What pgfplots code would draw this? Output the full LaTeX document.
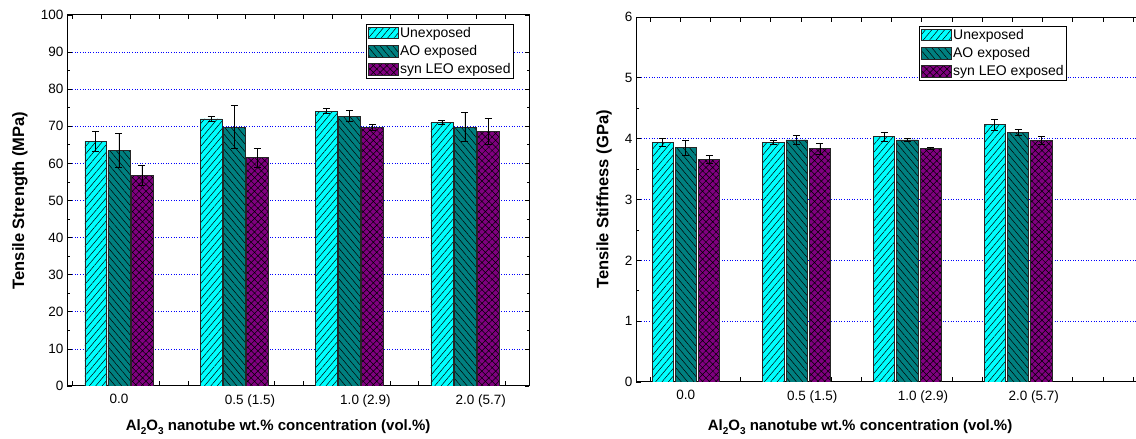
\documentclass[border=0pt]{standalone}
\usepackage{fontspec}
\setmainfont{Liberation Sans}
\usepackage{pgfplots}
\pgfplotsset{compat=1.18}
\usepackage{pgfplotstable}
\usetikzlibrary{patterns.meta}

\definecolor{cu}{HTML}{00FFFF}
\definecolor{ca}{HTML}{008080}
\definecolor{cs}{HTML}{800080}

\pgfplotstableread{
x u ue a ae s se
0 66.0 2.7 63.4 4.6 56.7 2.7
1 72.0 0.6 69.8 5.8 61.5 2.5
2 74.1 0.7 72.7 1.5 69.7 0.7
3 71.0 0.5 69.8 3.9 68.6 3.5
}\strength

\pgfplotstableread{
x u ue a ae s se
0 3.94 0.06 3.85 0.12 3.66 0.07
1 3.94 0.04 3.98 0.08 3.84 0.09
2 4.03 0.07 3.98 0.02 3.84 0.02
3 4.23 0.09 4.10 0.05 3.97 0.06
}\stiffness

\pgfplotsset{
  barbase/.style={draw=black!85, line width=0.7pt,
    legend image code/.code={\draw[##1,draw=black!85] (0pt,-5.5pt) rectangle (30pt,6pt);},
    error bars/y dir=both, error bars/y explicit,
    error bars/error bar style={line width=0.7pt,black,solid},
    error bars/error mark options={rotate=90,mark size=3.5pt,line width=0.7pt,black}},
  ubar/.style={barbase, fill=cu, postaction={pattern={Lines[angle=50,distance=4.9pt,line width=0.5pt]}}},
  abar/.style={barbase, fill=ca, postaction={pattern={Lines[angle=-50,distance=4.9pt,line width=0.5pt]}}},
  sbar/.style={barbase, fill=cs, postaction={pattern={Hatch[angle=45,distance=4.8pt,line width=0.5pt]}}},
  mystyle/.style={
    scale only axis,
    ybar,
    ymin=0,
    tick align=inside,
    major tick length=4.5pt,
    minor tick length=2.5pt,
    every tick/.style={black,line width=0.7pt},
    axis line style={line width=1pt},
    ymajorgrids,
    grid style={blue,line width=0.7pt,dash pattern=on 1pt off 1.6pt},
    extra y tick style={grid=none},
    minor y tick num=1,
    xticklabels={},
    extra x ticks={0,1,2,3},
    extra x tick labels={0.0,0.5\rlap{\ (1.5)},1.0\rlap{\ (2.9)},2.0\rlap{\ (5.7)}},
    extra x tick style={major tick length=0pt, grid=none},
    xticklabel style={yshift=-5pt},
    /pgf/number format/assume math mode=true,
    ticklabel style={font=\fontsize{13.5}{16}\selectfont},
    xlabel={\textbf{Al\raisebox{-4.5pt}{\fontsize{10}{10}\selectfont 2}O\raisebox{-4.5pt}{\fontsize{10}{10}\selectfont 3} nanotube wt.\% concentration (vol.\%)}},
    xlabel style={font=\fontsize{15}{18}\selectfont\bfseries, anchor=center},
    ylabel style={font=\fontsize{16.5}{19}\selectfont\bfseries, anchor=center},
    bar width=0.19,
    legend style={draw=black, line width=0.8pt, font=\fontsize{14}{16}\selectfont,
      inner sep=1.5pt, row sep=3.5pt, legend cell align=left,
      nodes={inner sep=1.5pt}},
  }
}

\begin{document}
\begin{tikzpicture}
\path[use as bounding box] (0,0) rectangle (1136pt,439pt);
\clip (0,0) rectangle (1136pt,439pt);

\begin{axis}[mystyle,
  at={(67pt,53pt)}, anchor=south west,
  width=462pt, height=371pt,
  xmin=-0.45, xmax=3.555,
  ymax=100, ytick={10,20,...,90},
  extra y ticks={0,100},
  xtick={-0.4,-0.15,...,3.36},
  ylabel={Tensile Strength (MPa)},
  ylabel style={at={(axis description cs:-0.1017,0.5)}},
  xlabel style={at={(axis description cs:0.457,-0.1105)}},
  legend style={at={(0.9675,0.9757)}, anchor=north east},
]
\addplot+[ubar, bar shift=-0.2] table[x=x,y=u,y error=ue]{\strength};
\addplot+[abar, bar shift=0] table[x=x,y=a,y error=ae]{\strength};
\addplot+[sbar, bar shift=0.2] table[x=x,y=s,y error=se]{\strength};
\legend{Unexposed,AO exposed,syn LEO exposed}
\end{axis}

\begin{axis}[mystyle,
  at={(636pt,57pt)}, anchor=south west,
  width=515pt, height=365pt,
  xmin=-0.45, xmax=4.2,
  ymax=6, ytick={1,2,...,5},
  extra y ticks={0,6},
  xtick={-0.325,-0.0523,...,4.2},
  ylabel={Tensile Stiffness (GPa)},
  ylabel style={at={(axis description cs:-0.0621,0.5)}},
  xlabel style={at={(axis description cs:0.435,-0.1233)}},
  legend style={at={(0.837,0.975)}, anchor=north east},
]
\addplot+[ubar, bar shift=-0.21] table[x=x,y=u,y error=ue]{\stiffness};
\addplot+[abar, bar shift=0] table[x=x,y=a,y error=ae]{\stiffness};
\addplot+[sbar, bar shift=0.21] table[x=x,y=s,y error=se]{\stiffness};
\legend{Unexposed,AO exposed,syn LEO exposed}
\end{axis}
\end{tikzpicture}
\end{document}
